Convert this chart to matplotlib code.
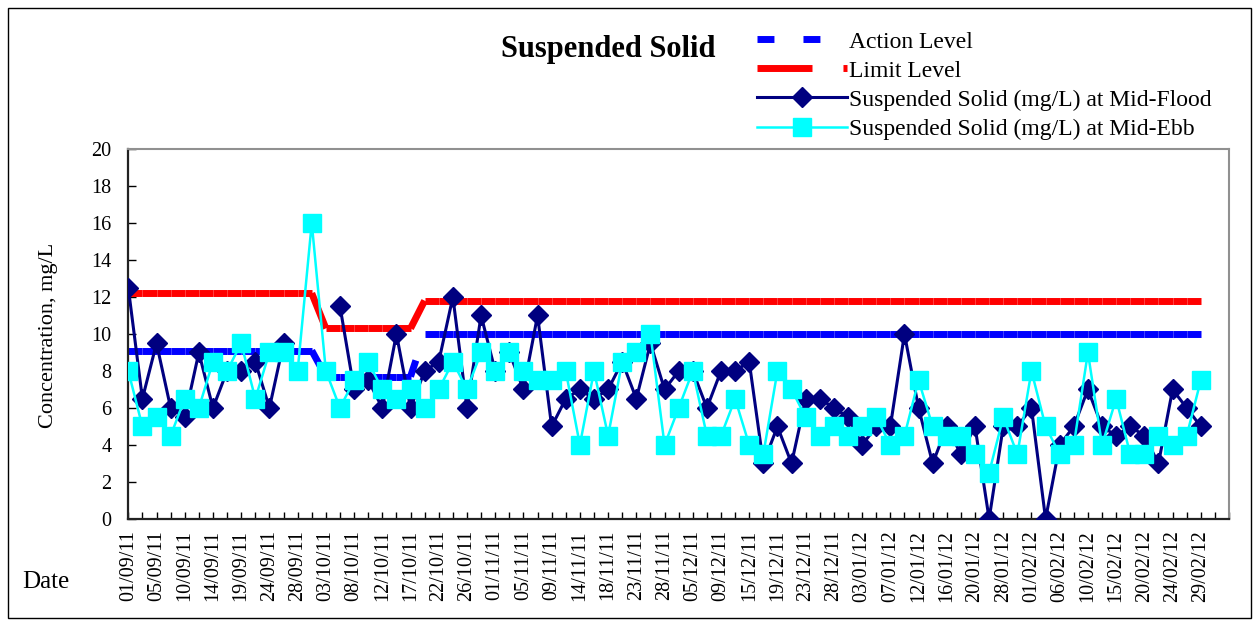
import matplotlib
matplotlib.use("Agg")
import matplotlib.pyplot as plt
import numpy as np
from matplotlib.collections import LineCollection
from matplotlib.lines import Line2D
from matplotlib.patches import Rectangle

plt.rcParams['font.family'] = ['Liberation Serif', 'DejaVu Serif']
plt.rcParams['lines.scale_dashes'] = False

# every 2nd sampling date is labelled on the axis
tick_labels = ['01/09/11', '05/09/11', '10/09/11', '14/09/11', '19/09/11', '24/09/11',
               '28/09/11', '03/10/11', '08/10/11', '12/10/11', '17/10/11', '22/10/11',
               '26/10/11', '01/11/11', '05/11/11', '09/11/11', '14/11/11', '18/11/11',
               '23/11/11', '28/11/11', '05/12/11', '09/12/11', '15/12/11', '19/12/11',
               '23/12/11', '28/12/11', '03/01/12', '07/01/12', '12/01/12', '16/01/12',
               '20/01/12', '28/01/12', '01/02/12', '06/02/12', '10/02/12', '15/02/12',
               '20/02/12', '24/02/12', '29/02/12']

nan = np.nan
mid_flood = [12.5, 6.5, 9.5, 6.0, 5.5, 9.0, 6.0, 8.0, 8.0, 8.5, 6.0, 9.5, nan, nan, nan,
             11.5, 7.0, 7.5, 6.0, 10.0, 6.0, 8.0, 8.5, 12.0, 6.0, 11.0, 8.0, 9.0, 7.0,
             11.0, 5.0, 6.5, 7.0, 6.5, 7.0, 8.5, 6.5, 9.5, 7.0, 8.0, 8.0, 6.0, 8.0, 8.0,
             8.5, 3.0, 5.0, 3.0, 6.5, 6.5, 6.0, 5.5, 4.0, 5.0, 5.0, 10.0, 6.0, 3.0, 5.0,
             3.5, 5.0, 0.0, 5.0, 5.0, 6.0, 0.0, 4.0, 5.0, 7.0, 5.0, 4.5, 5.0, 4.5, 3.0,
             7.0, 6.0, 5.0]
mid_ebb = [8.0, 5.0, 5.5, 4.5, 6.5, 6.0, 8.5, 8.0, 9.5, 6.5, 9.0, 9.0, 8.0, 16.0, 8.0,
           6.0, 7.5, 8.5, 7.0, 6.5, 7.0, 6.0, 7.0, 8.5, 7.0, 9.0, 8.0, 9.0, 8.0, 7.5,
           7.5, 8.0, 4.0, 8.0, 4.5, 8.5, 9.0, 10.0, 4.0, 6.0, 8.0, 4.5, 4.5, 6.5, 4.0,
           3.5, 8.0, 7.0, 5.5, 4.5, 5.0, 4.5, 5.0, 5.5, 4.0, 4.5, 7.5, 5.0, 4.5, 4.5,
           3.5, 2.5, 5.5, 3.5, 8.0, 5.0, 3.5, 4.0, 9.0, 4.0, 6.5, 3.5, 3.5, 4.5, 4.0,
           4.5, 7.5]
action_level = [9.1] * 14 + [7.7] * 7 + [10.0] * 56
limit_level = [12.2] * 14 + [10.3] * 7 + [11.8] * 56

n_cat = 79  # axis has two empty categories after the last date
x = np.arange(len(mid_flood))

fig = plt.figure(figsize=(12.59, 6.21), dpi=100)
ax = fig.add_axes([0.1019, 0.1643, 0.8743, 0.5958])


def segments(vals):
    # one segment per pair of points, so the dash pattern restarts at each point (Excel style)
    return [[(x[k], vals[k]), (x[k + 1], vals[k + 1])] for k in range(len(vals) - 1)]


blue_dash = (0, (12.2, 20.9))
red_dash = (0, (39.6, 22.3))
ax.add_collection(LineCollection(segments(action_level), colors='#0000FF', linewidths=5,
                                 linestyles=[blue_dash], capstyle='butt', zorder=2))
ax.add_collection(LineCollection(segments(limit_level), colors='#FF0000', linewidths=5,
                                 linestyles=[red_dash], capstyle='butt', zorder=2))

ax.plot(x, mid_flood, color='#000080', lw=2.2, marker='D', ms=10, mec='#000080', zorder=3)
ax.plot(x, mid_ebb, color='#00FFFF', lw=1.8, marker='s', ms=13, mec='#00FFFF', zorder=4)

ax.set_xlim(0, n_cat - 1)
ax.set_ylim(0, 20)
ax.set_yticks(np.arange(0, 21, 2))
ax.set_xticks(np.arange(n_cat), minor=True)
ax.set_xticks(x[::2])
ax.set_xticklabels(tick_labels, rotation=90, fontsize=14.5)
ax.tick_params(axis='y', direction='in', length=6, width=1, labelsize=14.5, pad=12)
ax.tick_params(axis='x', which='both', direction='in', length=5, width=1, pad=8)
ax.tick_params(axis='x', which='minor', length=5)
for s in ['left', 'bottom']:
    ax.spines[s].set_color('#222222')
    ax.spines[s].set_linewidth(1.6)
for s in ['top', 'right']:
    ax.spines[s].set_color('#909090')
    ax.spines[s].set_linewidth(1.5)

fig.text(48 / 1259, 1 - 335 / 621, 'Concentration, mg/L', rotation=90,
         ha='center', va='center', fontsize=16)
fig.text(22 / 1259, 1 - 582 / 621, 'Date', ha='left', va='center', fontsize=18)
fig.text(608 / 1259, 1 - 49 / 621, 'Suspended Solid', ha='center', va='center',
         fontsize=22, fontweight='bold')

handles = [
    Line2D([], [], color='#0000FF', lw=5, linestyle=blue_dash, dash_capstyle='butt'),
    Line2D([], [], color='#FF0000', lw=5, linestyle=red_dash, dash_capstyle='butt'),
    Line2D([], [], color='#000080', lw=2.2, marker='D', ms=10),
    Line2D([], [], color='#00FFFF', lw=1.8, marker='s', ms=13),
]
labels = ['Action Level', 'Limit Level',
          'Suspended Solid (mg/L) at Mid-Flood', 'Suspended Solid (mg/L) at Mid-Ebb']
fig.legend(handles, labels, loc='upper left', bbox_to_anchor=(757 / 1259, 1 - 31 / 621),
           frameon=False, fontsize=17, handlelength=3.8, handletextpad=0.1,
           borderpad=0, borderaxespad=0, labelspacing=0.32)

fig.add_artist(Rectangle((8 / 1259, 3 / 621), 1243 / 1259, 610 / 621,
                         transform=fig.transFigure, fill=False, ec='black', lw=1))

fig.savefig('out.png', dpi=100)
